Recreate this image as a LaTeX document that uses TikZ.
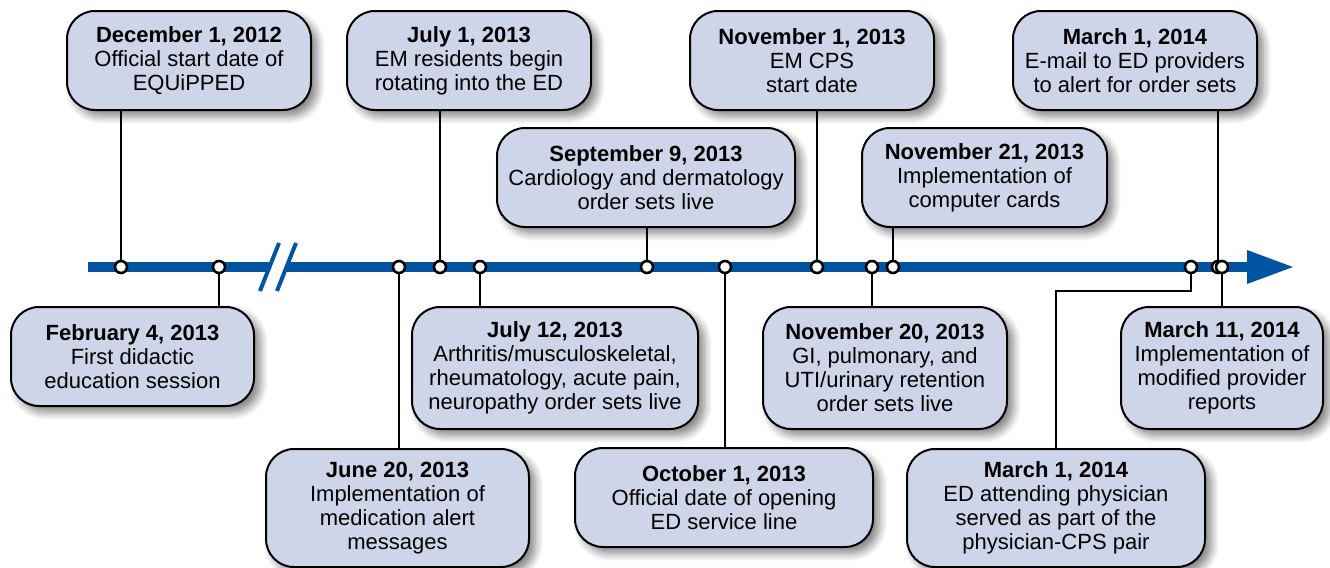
\documentclass[tikz,border=0pt]{standalone}
\usepackage{fontspec}
\setmainfont{Liberation Sans}
\usetikzlibrary{shadows.blur}
\definecolor{boxfill}{RGB}{206,213,232}
\definecolor{tlblue}{RGB}{0,84,160}
\begin{document}
\begin{tikzpicture}[x=0.5pt,y=-0.5pt,
  evbox/.style={draw=black, line width=1pt, fill=boxfill, rounded corners=14pt,
    align=center, inner sep=0pt, font=\fontsize{11}{12}\selectfont,
    blur shadow={shadow xshift=3pt, shadow yshift=-3pt, shadow blur radius=4pt, shadow blur steps=8, shadow opacity=50}},
  conn/.style={draw=black, line width=1.3pt},
  tdot/.style={circle, draw=black, fill=white, line width=1.3pt, minimum size=6pt, inner sep=0pt}]
\useasboundingbox (0,0) rectangle (1330,568);

% boxes
\node[evbox, minimum width=122pt, minimum height=49.5pt] (b1) at (189,60.5) {\textbf{December 1, 2012}\\Official start date of\\EQUiPPED};
\node[evbox, minimum width=122pt, minimum height=49.5pt] (b2) at (469,60.5) {\textbf{July 1, 2013}\\EM residents begin\\rotating into the ED};
\node[evbox, minimum width=122pt, minimum height=49.5pt] (b3) at (812,60.5) {\textbf{November 1, 2013}\\EM CPS\\start date};
\node[evbox, minimum width=122pt, minimum height=49.5pt] (b4) at (1135,60.5) {\textbf{March 1, 2014}\\E-mail to ED providers\\to alert for order sets};
\node[evbox, minimum width=149pt, minimum height=49.5pt] (b5) at (646,177.5) {\textbf{September 9, 2013}\\Cardiology and dermatology\\order sets live};
\node[evbox, minimum width=122.5pt, minimum height=49.5pt] (b6) at (984.5,177.5) {\textbf{November 21, 2013}\\Implementation of\\computer cards};
\node[evbox, minimum width=121.5pt, minimum height=49.5pt] (b7) at (132.5,356.5) {\textbf{February 4, 2013}\\First didactic\\education session};
\node[evbox, minimum width=143pt, minimum height=61pt] (b8) at (555,368) {\textbf{July 12, 2013}\\Arthritis/musculoskeletal,\\rheumatology, acute pain,\\neuropathy order sets live};
\node[evbox, minimum width=122pt, minimum height=61pt] (b9) at (885,368) {\textbf{November 20, 2013}\\GI, pulmonary, and\\UTI/urinary retention\\order sets live};
\node[evbox, minimum width=101pt, minimum height=61pt] (b10) at (1222,368) {\textbf{March 11, 2014}\\Implementation of\\modified provider\\reports};
\node[evbox, minimum width=131.5pt, minimum height=59pt] (b11) at (397.5,508) {\textbf{June 20, 2013}\\Implementation of\\medication alert\\messages};
\node[evbox, minimum width=149pt, minimum height=49.5pt] (b12) at (724,497.5) {\textbf{October 1, 2013}\\Official date of opening\\ED service line};
\node[evbox, minimum width=149pt, minimum height=59pt] (b13) at (1056,508) {\textbf{March 1, 2014}\\ED attending physician\\served as part of the\\physician-CPS pair};

% timeline positions
\coordinate (p1) at (121,267);
\coordinate (p2) at (219,267);
\coordinate (p3) at (399,267);
\coordinate (p4) at (440,267);
\coordinate (p5) at (480,267);
\coordinate (p6) at (647,267);
\coordinate (p7) at (725,267);
\coordinate (p8) at (817,267);
\coordinate (p9) at (872,267);
\coordinate (p10) at (893,267);
\coordinate (p11) at (1191,267);
\coordinate (p12) at (1218,267);
\coordinate (p13) at (1222,267);
\coordinate (tstart) at (88,267);
\coordinate (tend) at (1250,267);
\coordinate (ttip) at (1293,267);
\coordinate (elbow1) at (1191,291);
\coordinate (elbow2) at (1056,291);

% connectors
\draw[conn] (p1) -- (p1 |- b1.south);
\draw[conn] (p2) -- (p2 |- b7.north);
\draw[conn] (p3) -- (p3 |- b11.north);
\draw[conn] (p4) -- (p4 |- b2.south);
\draw[conn] (p5) -- (p5 |- b8.north);
\draw[conn] (p6) -- (p6 |- b5.south);
\draw[conn] (p7) -- (p7 |- b12.north);
\draw[conn] (p8) -- (p8 |- b3.south);
\draw[conn] (p9) -- (p9 |- b9.north);
\draw[conn] (p10) -- (p10 |- b6.south);
\draw[conn] (p11) -- (elbow1) -- (elbow2) -- (b13.north);
\draw[conn] (p12) -- (p12 |- b4.south);
\draw[conn] (p13) -- (p13 |- b10.north);

% timeline
\draw[tlblue, line width=5pt] (tstart) -- (tend);
\fill[tlblue] (1247,250) -- (ttip) -- (1247,284) -- cycle;

% break
\fill[white] (279,243) -- (296,243) -- (277,291) -- (260,291) -- cycle;
\draw[tlblue, line width=2pt] (279,243) -- (260,291);
\draw[tlblue, line width=2pt] (296,243) -- (277,291);

% dots
\foreach \i in {1,...,13} { \node[tdot] (d\i) at (p\i) {}; }
\end{tikzpicture}
\end{document}
